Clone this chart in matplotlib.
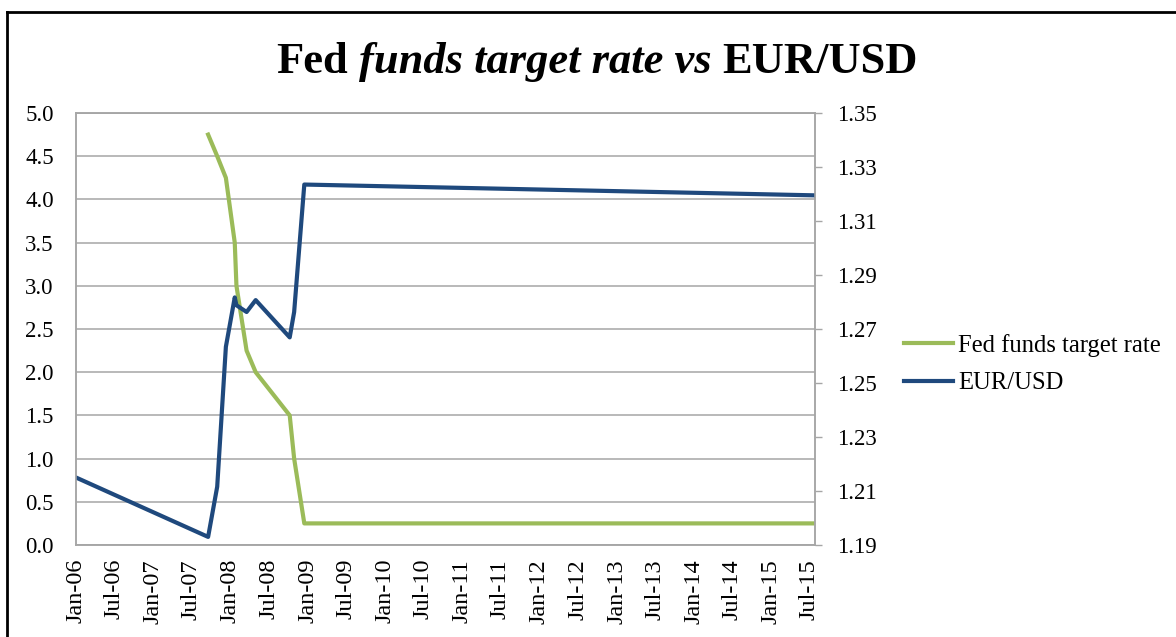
import datetime

import matplotlib
matplotlib.use('Agg')
import matplotlib.pyplot as plt
import matplotlib.dates as mdates
from matplotlib.lines import Line2D
from matplotlib.ticker import FormatStrFormatter
from matplotlib import rcParams

# Times New Roman 風のフォント
rcParams['font.family'] = 'serif'
rcParams['font.serif'] = ['Liberation Serif', 'DejaVu Serif']

# Fed funds target rate (左軸)
fed_dates = ['2007-09-18', '2007-10-31', '2007-12-11', '2008-01-22', '2008-01-30',
             '2008-03-18', '2008-04-30', '2008-10-08', '2008-10-29', '2008-12-16',
             '2015-07-29']
fed_rate = [4.75, 4.50, 4.25, 3.50, 3.00, 2.25, 2.00, 1.50, 1.00, 0.25, 0.25]

# EUR/USD (右軸)
eur_dates = ['2006-01-01', '2007-09-18', '2007-10-31', '2007-12-11', '2008-01-22',
             '2008-01-30', '2008-03-18', '2008-04-30', '2008-10-08', '2008-10-29',
             '2008-12-16', '2015-07-29']
eur_usd = [1.215, 1.193, 1.2116, 1.2634, 1.2817, 1.2788, 1.2763, 1.2807, 1.2669,
           1.2763, 1.3235, 1.3195]

# 軸の目盛り
x_ticks = ['%d-%02d-01' % (y, m) for y in range(2006, 2016) for m in (1, 7)]
left_ticks = [0.0, 0.5, 1.0, 1.5, 2.0, 2.5, 3.0, 3.5, 4.0, 4.5, 5.0]
right_ticks = [1.19, 1.21, 1.23, 1.25, 1.27, 1.29, 1.31, 1.33, 1.35]
x_range = ['2006-01-01', '2015-07-29']

title_parts = [('Fed', 'normal'), ('funds target rate vs', 'italic'), ('EUR/USD', 'normal')]

W, H = 1176, 637
GREEN = '#9BBB59'
BLUE = '#1F497D'
GRID = '#A6A6A6'


def to_dt(s):
    return datetime.datetime.strptime(s, '%Y-%m-%d')


fig = plt.figure(figsize=(W / 100, H / 100), dpi=100)
ax = fig.add_axes([76 / W, 1 - 545 / H, (815 - 76) / W, (545 - 113) / H])
ax2 = ax.twinx()

ax.plot([to_dt(d) for d in fed_dates], fed_rate, color=GREEN, lw=3,
        solid_joinstyle='round', label='Fed funds target rate')
ax2.plot([to_dt(d) for d in eur_dates], eur_usd, color=BLUE, lw=3,
         solid_joinstyle='round', label='EUR/USD')

# 左軸
ax.set_ylim(left_ticks[0], left_ticks[-1])
ax.set_yticks(left_ticks)
ax.yaxis.set_major_formatter(FormatStrFormatter('%.1f'))
ax.grid(axis='y', color=GRID, lw=1.1)
ax.set_axisbelow(True)

# 右軸
ax2.set_ylim(right_ticks[0], right_ticks[-1])
ax2.set_yticks(right_ticks)
ax2.yaxis.set_major_formatter(FormatStrFormatter('%.2f'))

# X軸 (日付)
ax.set_xlim(to_dt(x_range[0]), to_dt(x_range[1]))
ax.set_xticks([to_dt(d) for d in x_ticks])
ax.xaxis.set_major_formatter(mdates.DateFormatter('%b-%y'))
plt.setp(ax.get_xticklabels(), rotation=90)

ax.tick_params(axis='x', length=0, pad=10, labelsize=17.5)
ax.tick_params(axis='y', length=0, pad=16, labelsize=16.5)
ax2.tick_params(axis='y', length=5, width=1, color=GRID, pad=11, labelsize=16.5)

for a in (ax, ax2):
    for sp in a.spines.values():
        sp.set_color(GRID)
        sp.set_linewidth(1.1)

# 凡例
h1, l1 = ax.get_legend_handles_labels()
h2, l2 = ax2.get_legend_handles_labels()
fig.legend(h1 + h2, l1 + l2, loc='center left', bbox_to_anchor=(904 / W, 1 - 364 / H),
           frameon=False, fontsize=17.7, handlelength=2.0, handletextpad=0.2,
           labelspacing=0.62, borderpad=0, borderaxespad=0)

# タイトル (一部だけイタリック)
renderer = fig.canvas.get_renderer()
texts = []
for s, style in title_parts:
    t = fig.text(0, 1 - 73 / H, s, fontsize=32, fontweight='bold', fontstyle=style,
                 ha='left', va='baseline')
    texts.append(t)
widths = [t.get_window_extent(renderer).width for t in texts]
gap = 0.25 * 32 * fig.dpi / 72
x = 597 - (sum(widths) + gap * (len(texts) - 1)) / 2
for t, w in zip(texts, widths):
    t.set_x(x / W)
    x += w + gap

# 外枠 (上と左のみ見えている)
fig.add_artist(Line2D([7 / W, 7 / W], [0, 1 - 12 / H], color='black', lw=2,
                      transform=fig.transFigure))
fig.add_artist(Line2D([7 / W, 1], [1 - 12 / H, 1 - 12 / H], color='black', lw=2,
                      transform=fig.transFigure))

fig.savefig('out.png', dpi=100)
